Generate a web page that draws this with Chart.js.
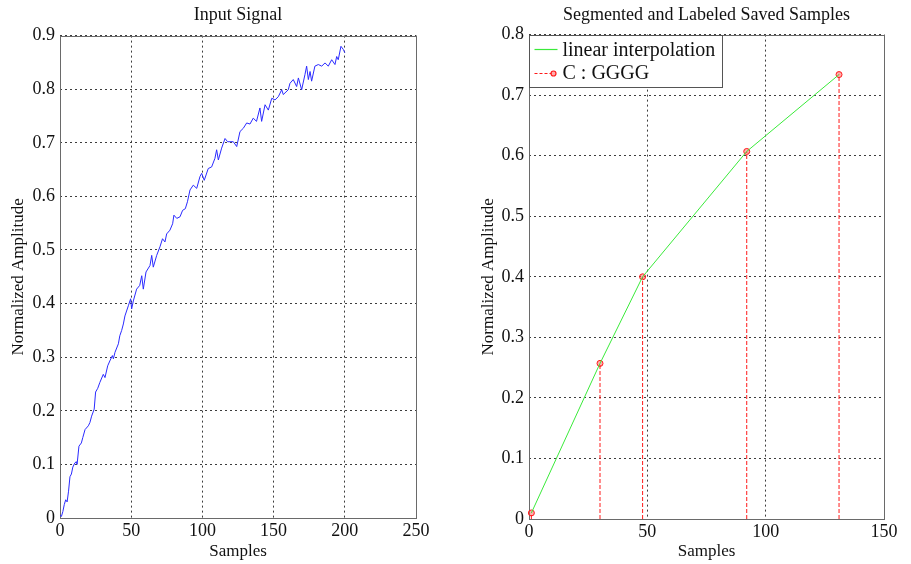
<!DOCTYPE html>
<html>
<head>
<meta charset="utf-8">
<script src="https://cdn.jsdelivr.net/npm/chart.js@4.4.1/dist/chart.umd.min.js"></script>
<style>
    html, body { margin: 0; padding: 0; background: #fff; }
    #wrap { position: relative; width: 911px; height: 564px; }
    canvas { position: absolute; top: 0; }
    #leftChart { left: 0; }
    #rightChart { left: 456px; }
</style>
</head>
<body>
<div id="wrap">
    <canvas id="leftChart" width="456" height="564"></canvas>
    <canvas id="rightChart" width="455" height="564"></canvas>
</div>
<script>
// input signal
const signalSamples = [0, 1, 2, 3, 4, 5, 6, 7, 8, 9, 10.5, 11.5, 12, 13.3, 15, 16, 17.6, 19.9, 21, 22.2,
    24, 25, 26.5, 28, 30.4, 31.6, 33.5, 35, 36.8, 37.5, 38.6, 41, 42, 43.3, 44.5, 45.6, 48, 49.6, 50.3, 51.5,
    53.8, 56, 57.4, 58.5, 60.4, 63.2, 64.4, 65.5, 67.9, 70.2, 72, 73.7, 74.9, 77.2, 79.1, 80, 82, 84.3, 86.1, 88,
    89.5, 91.3, 93.6, 96, 98.3, 99.5, 101.3, 104.1, 106.5, 108.8, 110, 111.2, 113.5, 115.9, 117.7, 119.4, 121.7, 124.1, 126.4, 128.7,
    131.1, 133.4, 135.7, 138, 140.4, 141.6, 144, 146.3, 148.7, 151, 153.3, 155.7, 156.8, 160.3, 161.5, 163.8, 166.2, 167.4, 169.7, 172,
    173.2, 174.4, 175.6, 176.7, 179, 181.4, 183.8, 186.1, 188.4, 190.8, 193.1, 194.3, 195.4, 197.3, 199, 200];
const signalValues = [0.005, 0.003, 0.012, 0.025, 0.034, 0.03, 0.05, 0.077, 0.082, 0.095, 0.103, 0.105, 0.1, 0.134, 0.14, 0.15, 0.165, 0.172, 0.178, 0.19,
    0.203, 0.235, 0.242, 0.253, 0.268, 0.262, 0.284, 0.293, 0.303, 0.297, 0.309, 0.325, 0.34, 0.35, 0.362, 0.377, 0.396, 0.409, 0.39, 0.405,
    0.427, 0.434, 0.452, 0.427, 0.459, 0.471, 0.49, 0.468, 0.49, 0.506, 0.521, 0.515, 0.53, 0.537, 0.549, 0.565, 0.559, 0.562, 0.574, 0.577,
    0.59, 0.612, 0.621, 0.615, 0.637, 0.643, 0.63, 0.652, 0.655, 0.671, 0.687, 0.668, 0.69, 0.708, 0.702, 0.702, 0.702, 0.693, 0.721, 0.727,
    0.737, 0.735, 0.746, 0.74, 0.765, 0.74, 0.771, 0.761, 0.783, 0.78, 0.786, 0.799, 0.79, 0.799, 0.811, 0.818, 0.805, 0.821, 0.799, 0.827,
    0.843, 0.818, 0.833, 0.815, 0.843, 0.846, 0.843, 0.849, 0.843, 0.855, 0.846, 0.861, 0.855, 0.88, 0.874, 0.868];
const leftXTicks = [0, 50, 100, 150, 200, 250];
const leftYTicks = [0, 0.1, 0.2, 0.3, 0.4, 0.5, 0.6, 0.7, 0.8, 0.9];

// saved samples, right panel
const savedSamples = [1, 30, 48, 92, 131];
const savedValues = [0.01, 0.257, 0.4, 0.607, 0.734];
const rightXTicks = [0, 50, 100, 150];
const rightYTicks = [0, 0.1, 0.2, 0.3, 0.4, 0.5, 0.6, 0.7, 0.8];
const legendLabels = ['linear interpolation', 'C : GGGG'];

const SERIF = '"Liberation Serif", "Times New Roman", serif';
const GREEN = '#3aea3a';
const RED = '#ff1a1a';

const framePlugin = {
    id: 'frame',
    beforeDatasetsDraw(chart) {
        const { ctx, chartArea: a } = chart;
        ctx.save();
        ctx.strokeStyle = '#6a6a6a';
        ctx.lineWidth = 1;
        ctx.strokeRect(Math.round(a.left) + 0.5, Math.round(a.top) + 0.5,
            Math.round(a.right - a.left), Math.round(a.bottom - a.top));
        ctx.restore();
    },
};

const boxLegendPlugin = {
    id: 'boxLegend',
    afterDraw(chart) {
        const { ctx, chartArea: a } = chart;
        const x = Math.round(a.left) + 0.5;
        const y = Math.round(a.top) + 0.5;
        ctx.save();
        ctx.fillStyle = '#fff';
        ctx.fillRect(x, y, 193, 52);
        ctx.strokeStyle = '#555';
        ctx.lineWidth = 1;
        ctx.strokeRect(x, y, 193, 52);

        ctx.lineWidth = 1.2;
        ctx.strokeStyle = GREEN;
        ctx.beginPath();
        ctx.moveTo(x + 5, y + 14);
        ctx.lineTo(x + 28, y + 14);
        ctx.stroke();

        ctx.strokeStyle = RED;
        ctx.setLineDash([3, 2]);
        ctx.beginPath();
        ctx.moveTo(x + 5, y + 38);
        ctx.lineTo(x + 22, y + 38);
        ctx.stroke();
        ctx.setLineDash([]);
        ctx.beginPath();
        ctx.arc(x + 24, y + 38, 2.5, 0, Math.PI * 2);
        ctx.fillStyle = 'rgba(255, 90, 90, 0.5)';
        ctx.fill();
        ctx.stroke();

        ctx.fillStyle = '#111';
        ctx.font = '20px ' + SERIF;
        ctx.textBaseline = 'middle';
        ctx.fillText(legendLabels[0], x + 33, y + 15);
        ctx.fillText(legendLabels[1], x + 33, y + 38);
        ctx.restore();
    },
};

function buildScales(xTicks, yTicks, yWidth, xHeight, yTitlePad) {
    const gridLines = { color: '#3c3c3c', lineWidth: 1, drawTicks: false };
    const dotted = { display: false, dash: [2, 3] };
    return {
        x: {
            type: 'linear',
            min: xTicks[0],
            max: xTicks[xTicks.length - 1],
            afterBuildTicks: (s) => { s.ticks = xTicks.map((v) => ({ value: v })); },
            afterFit: (s) => { s.height = xHeight; },
            ticks: {
                color: '#111',
                font: { family: SERIF, size: 18 },
                padding: 2,
                maxRotation: 0,
                autoSkip: false,
                callback: (v) => String(v),
            },
            grid: gridLines,
            border: dotted,
            title: {
                display: true,
                text: 'Samples',
                color: '#111',
                font: { family: SERIF, size: 17 },
                padding: { top: 0, bottom: 2 },
            },
        },
        y: {
            type: 'linear',
            min: yTicks[0],
            max: yTicks[yTicks.length - 1],
            afterBuildTicks: (s) => { s.ticks = yTicks.map((v) => ({ value: v })); },
            afterFit: (s) => { s.width = yWidth; },
            ticks: {
                color: '#111',
                font: { family: SERIF, size: 18 },
                padding: 5,
                autoSkip: false,
                callback: (v) => String(v),
            },
            grid: gridLines,
            border: dotted,
            title: {
                display: true,
                text: 'Normalized Amplitude',
                color: '#111',
                font: { family: SERIF, size: 17 },
                padding: { top: yTitlePad, bottom: 0 },
            },
        },
    };
}

function titleOptions(text, bottomPad) {
    return {
        display: true,
        fullSize: false,
        text: text,
        color: '#111',
        font: { family: SERIF, size: 18, weight: 'normal' },
        padding: { top: 4, bottom: bottomPad },
    };
}

function createInputChart() {
    const canvas = document.getElementById('leftChart');
    new Chart(canvas, {
        type: 'scatter',
        data: {
            datasets: [
                {
                    label: 'Input Signal',
                    data: signalSamples.map((s, i) => ({ x: s, y: signalValues[i] })),
                    showLine: true,
                    borderColor: '#2a2aff',
                    borderWidth: 1,
                    pointRadius: 0,
                    pointHoverRadius: 0,
                },
            ],
        },
        options: {
            responsive: false,
            animation: false,
            devicePixelRatio: 1,
            layout: { padding: { left: 0, right: 40, top: 0, bottom: 0 } },
            scales: buildScales(leftXTicks, leftYTicks, 60, 46, 8),
            plugins: {
                title: titleOptions('Input Signal', 10),
                legend: { display: false },
                tooltip: { enabled: false },
            },
        },
        plugins: [framePlugin],
    });
}

function createSavedChart() {
    const canvas = document.getElementById('rightChart');
    const stemPoints = [];
    savedSamples.forEach((s, i) => {
        stemPoints.push({ x: s, y: 0 }, { x: s, y: savedValues[i] }, { x: s, y: null });
    });
    new Chart(canvas, {
        type: 'scatter',
        data: {
            datasets: [
                {
                    label: legendLabels[0],
                    data: savedSamples.map((s, i) => ({ x: s, y: savedValues[i] })),
                    showLine: true,
                    borderColor: GREEN,
                    borderWidth: 1,
                    pointRadius: 0,
                    pointHoverRadius: 0,
                },
                {
                    label: legendLabels[1],
                    data: stemPoints,
                    showLine: true,
                    spanGaps: false,
                    borderColor: RED,
                    borderWidth: 1,
                    borderDash: [4, 2],
                    pointRadius: 0,
                    pointHoverRadius: 0,
                },
                {
                    label: 'markers',
                    data: savedSamples.map((s, i) => ({ x: s, y: savedValues[i] })),
                    showLine: false,
                    pointRadius: 3,
                    pointBorderWidth: 1,
                    pointBorderColor: RED,
                    pointBackgroundColor: 'rgba(255, 90, 90, 0.5)',
                    clip: false,
                },
            ],
        },
        options: {
            responsive: false,
            animation: false,
            devicePixelRatio: 1,
            layout: { padding: { left: 0, right: 27, top: 0, bottom: 0 } },
            scales: buildScales(rightXTicks, rightYTicks, 73, 45, 22),
            plugins: {
                title: titleOptions('Segmented and Labeled Saved Samples', 9),
                legend: { display: false },
                tooltip: { enabled: false },
            },
        },
        plugins: [framePlugin, boxLegendPlugin],
    });
}

document.addEventListener('DOMContentLoaded', () => {
    createInputChart();
    createSavedChart();
});
</script>
</body>
</html>
